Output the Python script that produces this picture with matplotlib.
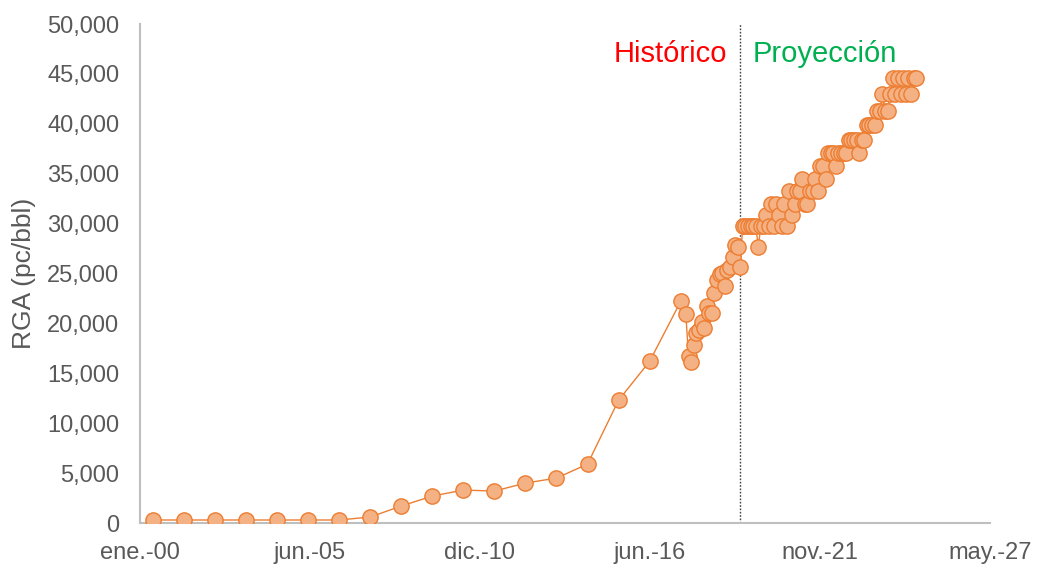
import numpy as np
import pandas as pd
import matplotlib
matplotlib.use("Agg")
import matplotlib.pyplot as plt
from matplotlib.ticker import FuncFormatter

plt.rcParams['font.family'] = ['Liberation Sans', 'DejaVu Sans']

# --- data -------------------------------------------------------------
# annual history (mid-year), 2000-2017
hist_annual_dates = pd.date_range("2000-06-01", periods=18, freq="12MS")
hist_annual_vals = [300, 300, 300, 300, 300, 300, 300, 600, 1700, 2700,
                    3300, 3200, 4000, 4500, 5900, 12300, 16200, 22200]

# monthly history, ago-2017 .. may-2019
hist_month_dates = pd.date_range("2017-08-01", periods=22, freq="MS")
hist_month_vals = [20900, 16700, 16100, 17800, 19000, 19300, 20100, 19500,
                   21700, 21000, 21000, 23000, 24300, 25000, 25100, 23700,
                   25400, 25700, 26700, 27900, 27700, 25700]

# monthly projection, jun-2019 .. ene-2025
proj_dates = pd.date_range("2019-06-01", periods=68, freq="MS")
proj_vals = [29800, 29800, 29800, 29800, 29800, 29800, 27700, 29800, 29800, 30900,
             29800, 32000, 29800, 32000, 30900, 29800, 32000, 29800, 33300, 30900,
             32000, 33300, 33300, 34500, 32000, 32000, 33300, 33300, 34500, 33300,
             35800, 35800, 34500, 37100, 37100, 37100, 35800, 37100, 37100, 37100,
             37100, 38400, 38400, 38400, 38400, 37100, 38400, 38400, 39900, 39900,
             39900, 39900, 41300, 41300, 43000, 41300, 41300, 43000, 44600, 43000,
             44600, 43000, 44600, 43000, 44600, 43000, 44600, 44600]

split_date = pd.Timestamp("2019-04-25")
x_start = pd.Timestamp("2000-01-01")
x_step_days = 2000
x_tick_labels = ["ene.-00", "jun.-05", "dic.-10", "jun.-16", "nov.-21", "may.-27"]

dates = list(hist_annual_dates) + list(hist_month_dates) + list(proj_dates)
vals = hist_annual_vals + hist_month_vals + proj_vals

# --- plot -------------------------------------------------------------
fig = plt.figure(figsize=(10.37, 5.69), dpi=100)
ax = fig.add_axes([140 / 1037, 1 - 523 / 569, 850 / 1037, 499 / 569])

ax.plot(dates, vals, color='#ED7D31', linewidth=1.0, marker='o',
        markersize=11, markerfacecolor='#F4B183', markeredgecolor='#ED7D31',
        markeredgewidth=1.0, zorder=3)

ax.axvline(split_date, color='#404040', linestyle=(0, (1.2, 1.2)), linewidth=1.0, zorder=2)

tick_dates = [x_start + pd.Timedelta(days=x_step_days * i) for i in range(len(x_tick_labels))]
ax.set_xlim(tick_dates[0], tick_dates[-1])
ax.set_xticks(tick_dates)
ax.set_xticklabels(x_tick_labels)

ax.set_ylim(0, 50000)
ax.set_yticks(np.arange(0, 50001, 5000))
ax.yaxis.set_major_formatter(FuncFormatter(lambda v, p: f"{v:,.0f}"))

for s in ['top', 'right']:
    ax.spines[s].set_visible(False)
for s in ['left', 'bottom']:
    ax.spines[s].set_color('#BFBFBF')
    ax.spines[s].set_linewidth(1.5)

ax.tick_params(axis='both', length=0, labelsize=17, labelcolor='#595959')
ax.tick_params(axis='y', pad=15)
ax.tick_params(axis='x', pad=14)

ax.set_ylabel("RGA (pc/bbl)", fontsize=19, color='#595959', labelpad=8)

ax.text(split_date - pd.Timedelta(days=150), 47000, "Histórico", color='#FF0000',
        fontsize=21, ha='right', va='center')
ax.text(split_date + pd.Timedelta(days=150), 47000, "Proyección", color='#00B050',
        fontsize=21, ha='left', va='center')

plt.savefig("out.png", dpi=100)
